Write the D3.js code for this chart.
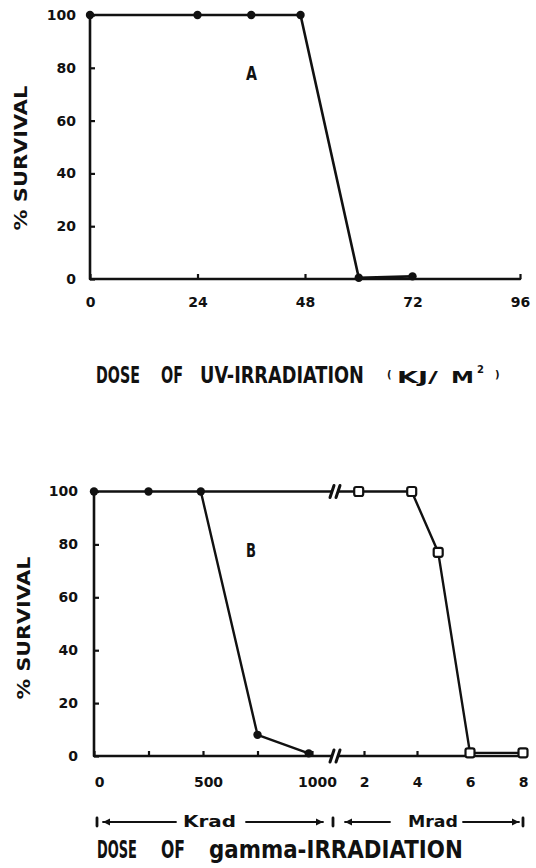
<!DOCTYPE html>
<html>
<head>
<meta charset="utf-8">
<script src="https://cdn.jsdelivr.net/npm/d3@7"></script>
<style>
  body { margin: 0; background: #fff; }
  text { font-family: "DejaVu Sans", sans-serif; font-weight: bold; fill: #111; }
</style>
</head>
<body>
<svg id="fig" width="536" height="868"></svg>
<script>
// --- panel A : UV dose (kJ/m2) vs % survival
const uvDose = [0, 24, 36, 47, 60, 72];
const uvSurvival = [100, 100, 100, 100, 0.5, 1];
const uvTicks = [0, 24, 48, 72, 96];

// --- panel B : gamma dose, krad part (dots) and mrad part (open squares)
const kradDose = [0, 250, 490, 750, 985];
const kradSurvival = [100, 100, 100, 8, 1];
const mradDose = [1.8, 3.8, 4.8, 6, 8];
const mradSurvival = [100, 100, 77, 1.2, 1.2];
const kradTicks = [0, 250, 500, 750, 1000];
const kradLabels = [0, 500, 1000];
const mradTicks = [2, 4, 6, 8];

const survivalTicks = [0, 20, 40, 60, 80, 100];

const ink = "#111";
const svg = d3.select("#fig");

// scales
const xA = d3.scaleLinear().domain([0, 96]).range([90, 520]);
const yA = d3.scaleLinear().domain([0, 100]).range([279, 15]);
const xK = d3.scaleLinear().domain([0, 1000]).range([94, 312]);
const xM = d3.scaleLinear().domain([2, 8]).range([364, 523]);
const yB = d3.scaleLinear().domain([0, 100]).range([756, 491.5]);
const breakX = (xK(1000) + xM(2)) / 2 - 3;
const gap = 4;

function styleAxis(g) {
  g.select(".domain").remove();
  g.selectAll(".tick line").attr("stroke", ink).attr("stroke-width", 2.2);
  g.selectAll(".tick text").attr("fill", ink)
    .style("font-family", "'DejaVu Sans', sans-serif")
    .style("font-weight", "bold")
    .style("font-size", "14px");
}

function stroke(sel, w) {
  return sel.attr("fill", "none").attr("stroke", ink).attr("stroke-width", w)
    .attr("stroke-linejoin", "round").attr("stroke-linecap", "round");
}

// text squeezed/stretched to a given width (scaled, so its box is the real one)
function fitText(t, x, y, size, w, rot) {
  const el = svg.append("text").attr("font-size", size).text(t);
  const len = el.node().getComputedTextLength();
  const sx = w / len;
  if (rot) {
    el.attr("text-anchor", "middle")
      .attr("transform", `translate(${x},${y}) rotate(-90) scale(${sx},1)`);
  } else {
    el.attr("transform", `translate(${x},${y}) scale(${sx},1)`);
  }
  return el;
}

// break marks "//"
function breakMarks(x, y) {
  [-3, 3].forEach(d => {
    stroke(svg.append("line"), 3)
      .attr("x1", x + d - 2).attr("y1", y + 6)
      .attr("x2", x + d + 2).attr("y2", y - 6);
  });
}

// ========== Panel A ==========
svg.append("g").attr("transform", `translate(${xA(0)},0)`)
  .call(d3.axisLeft(yA).tickValues(survivalTicks).tickSize(-5).tickSizeOuter(0).tickPadding(14))
  .call(styleAxis);
svg.append("g").attr("transform", `translate(0,${yA(0)})`)
  .call(d3.axisBottom(xA).tickValues(uvTicks).tickSize(-5).tickSizeOuter(0).tickPadding(18))
  .call(styleAxis);

stroke(svg.append("path"), 2.6)
  .attr("d", `M${xA(0)},${yA(100)}V${yA(0)}H${xA(96)}`);

const ptsA = uvDose.map((d, i) => [xA(d), yA(uvSurvival[i])]);
stroke(svg.append("path"), 2.6).attr("d", d3.line()(ptsA));
svg.append("g").selectAll("circle").data(ptsA).join("circle")
  .attr("cx", d => d[0]).attr("cy", d => d[1]).attr("r", 4.2).attr("fill", ink);

fitText("A", 246, 80, 20, 11);
fitText("% SURVIVAL", 27, 158, 18, 145, true);

// title A
const titleA = [["DOSE", 96, 44], ["OF", 161, 22], ["UV-IRRADIATION", 200, 164]];
titleA.forEach(([t, x, w]) => fitText(t, x, 383, 23, w));
svg.append("text").attr("x", 387).attr("y", 378).attr("font-size", 10).text("(");
fitText("KJ/", 397, 383, 15, 41);
fitText("M", 451, 383, 15, 23);
svg.append("text").attr("x", 477).attr("y", 373).attr("font-size", 10).text("2");
svg.append("text").attr("x", 495).attr("y", 378).attr("font-size", 10).text(")");

// ========== Panel B ==========
svg.append("g").attr("transform", `translate(${xK(0)},0)`)
  .call(d3.axisLeft(yB).tickValues(survivalTicks).tickSize(-5).tickSizeOuter(0).tickPadding(16))
  .call(styleAxis);
svg.append("g").attr("transform", `translate(0,${yB(0)})`)
  .call(d3.axisBottom(xK).tickValues(kradTicks).tickSize(-5).tickSizeOuter(0).tickPadding(21)
    .tickFormat(d => kradLabels.includes(d) ? d : ""))
  .call(styleAxis)
  .call(g => g.selectAll(".tick text").attr("dx", 5));
svg.append("g").attr("transform", `translate(0,${yB(0)})`)
  .call(d3.axisBottom(xM).tickValues(mradTicks).tickSize(-5).tickSizeOuter(0).tickPadding(21)
    .tickFormat(d3.format("d")))
  .call(styleAxis);

// axis lines with break
stroke(svg.append("path"), 2.6)
  .attr("d", `M${xK(0)},${yB(100)}V${yB(0)}H${breakX - gap}`);
stroke(svg.append("path"), 2.6)
  .attr("d", `M${breakX + gap},${yB(0)}H${xM(8)}`);
breakMarks(breakX, yB(0));

// krad series
const ptsK = kradDose.map((d, i) => [xK(d), yB(kradSurvival[i])]);
stroke(svg.append("path"), 2.4).attr("d", d3.line()(ptsK));
svg.append("g").selectAll("circle").data(ptsK).join("circle")
  .attr("cx", d => d[0]).attr("cy", d => d[1]).attr("r", 4.2).attr("fill", ink);

// 100 % plateau carried over the break into the mrad series
stroke(svg.append("path"), 2.4)
  .attr("d", `M${xK(kradDose[2])},${yB(100)}H${breakX - gap}`);
stroke(svg.append("path"), 2.4)
  .attr("d", `M${breakX + gap},${yB(100)}H${xM(mradDose[0])}`);
breakMarks(breakX, yB(100));

// mrad series
const ptsM = mradDose.map((d, i) => [xM(d), yB(mradSurvival[i])]);
stroke(svg.append("path"), 2.4).attr("d", d3.line()(ptsM));
svg.append("g").selectAll("rect").data(ptsM).join("rect")
  .attr("x", d => d[0] - 4.5).attr("y", d => d[1] - 4.5)
  .attr("width", 9).attr("height", 9).attr("rx", 2)
  .attr("fill", "#fff").attr("stroke", ink).attr("stroke-width", 2.2);

fitText("B", 246, 557, 19, 10);
fitText("% SURVIVAL", 30, 628, 18, 143, true);

// unit row: |<--- Krad --->| <--- Mrad --->|
const rowY = 822;
function bar(x) {
  stroke(svg.append("line"), 2.8).attr("x1", x).attr("x2", x)
    .attr("y1", rowY - 4).attr("y2", rowY + 4);
}
function arrow(x1, x2) {
  // head at x2
  stroke(svg.append("line"), 1.8).attr("x1", x1).attr("x2", x2).attr("y1", rowY).attr("y2", rowY);
  const s = x2 > x1 ? -1 : 1;
  svg.append("path").attr("fill", ink)
    .attr("d", `M${x2},${rowY}L${x2 + s * 7},${rowY - 3.5}L${x2 + s * 7},${rowY + 3.5}Z`);
}
bar(97); arrow(176, 103);
arrow(246, 323); bar(333);
arrow(390, 345);
arrow(463, 519); bar(523);
fitText("Krad", 183, rowY + 5, 15, 53);
fitText("Mrad", 408, rowY + 5, 15, 50);

// title B
const titleB = [["DOSE", 97, 40], ["OF", 161, 24], ["gamma-IRRADIATION", 209, 254]];
titleB.forEach(([t, x, w]) => fitText(t, x, 858, 24, w));
</script>
</body>
</html>
